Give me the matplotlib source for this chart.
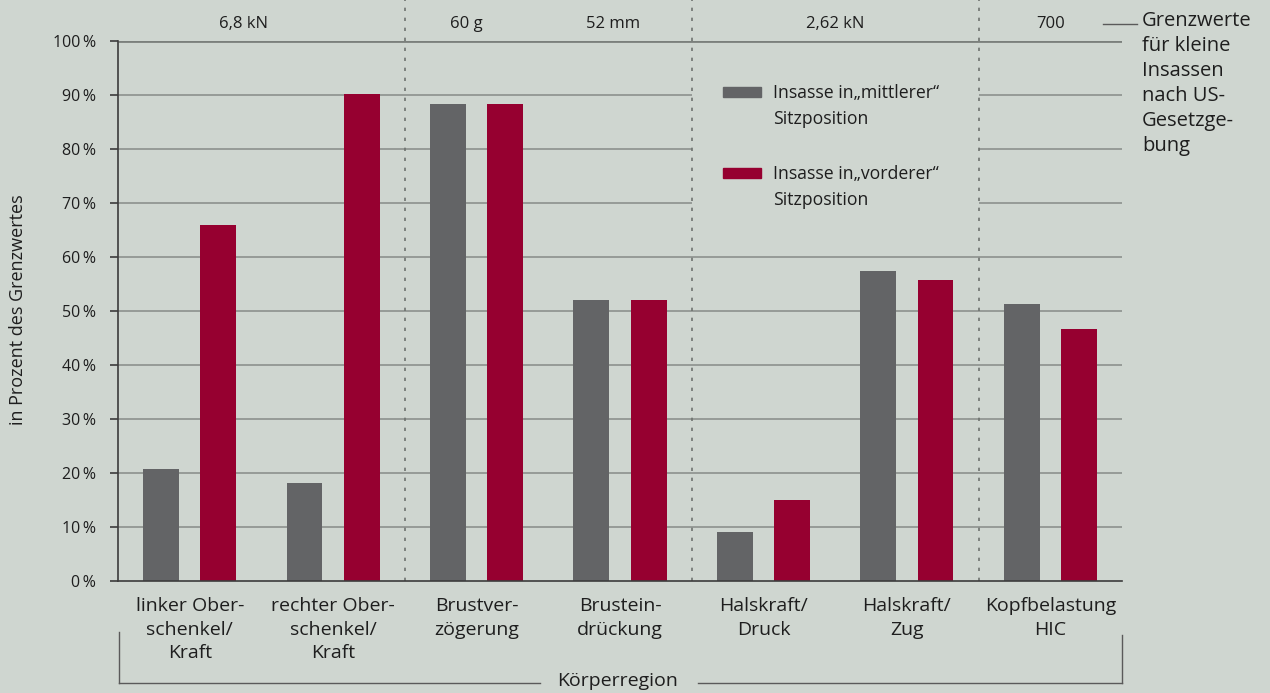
import numpy as np
import matplotlib
matplotlib.use('Agg')
from matplotlib import pyplot as plt
from matplotlib.patches import Rectangle
import matplotlib.transforms as mtransforms

plt.rcParams['font.family'] = ['Open Sans', 'DejaVu Sans']

BG = '#cfd6d0'
GREY = '#636466'
RED = '#960030'
TXT = '#1e1e1e'
LINE = '#8c918d'

######################## data ########################
categories = ['linker Ober-\nschenkel/\nKraft', 'rechter Ober-\nschenkel/\nKraft',
              'Brustver-\nzögerung', 'Brustein-\ndrückung', 'Halskraft/\nDruck',
              'Halskraft/\nZug', 'Kopfbelastung\nHIC']
mittlerer = [20.7, 18.1, 88.3, 52.0, 9.1, 57.4, 51.3]
vorderer = [65.9, 90.2, 88.3, 52.0, 15.0, 55.8, 46.6]
yticks = [0, 10, 20, 30, 40, 50, 60, 70, 80, 90, 100]
limit_labels = ['6,8 kN', '60 g', '52 mm', '2,62 kN', '700']
limit_pos = [0.875, 2.43, 3.45, 5.0, 6.5]
separators = [2, 4, 6]

######################## figure ########################
W, H = 1270, 693
fig = plt.figure(figsize=(W / 100, H / 100), dpi=100, facecolor=BG)
x0, x1, y0, y1 = 118, 1122, 581, 41
ax = fig.add_axes([x0 / W, 1 - y0 / H, (x1 - x0) / W, (y0 - y1) / H], facecolor=BG)
ax.set_xlim(0, 7)
ax.set_ylim(0, 100)


def ay(py):
    # figure pixel row -> axes fraction
    return (y0 - py) / (y0 - y1)


blend = mtransforms.blended_transform_factory(ax.transData, ax.transAxes)

# grid lines, hidden in the legend area
for t in yticks[1:-1]:
    if t in (70, 80, 90):
        ax.hlines(t, 0, 4, color=LINE, lw=1.2, zorder=1)
        ax.hlines(t, 6, 7, color=LINE, lw=1.2, zorder=1)
    else:
        ax.hlines(t, 0, 7, color=LINE, lw=1.2, zorder=1)
ax.hlines(100, 0, 7, color='#7b807c', lw=2, zorder=1)

# bars
x = np.arange(len(categories)) + 0.5
ax.bar(x - 0.2, mittlerer, width=0.25, color=GREY, zorder=2)
ax.bar(x + 0.2, vorderer, width=0.25, color=RED, zorder=2)

# dotted separators
for s in separators:
    ax.plot([s, s], [0, ay(0)], transform=blend, color='#6e736f', lw=1.2,
            ls=(0, (2, 4)), clip_on=False, zorder=1)

# spines / ticks
for sp in ['top', 'right']:
    ax.spines[sp].set_visible(False)
ax.spines['left'].set_color('#3c3c3c')
ax.spines['bottom'].set_color('#3c3c3c')
ax.spines['left'].set_linewidth(1.2)
ax.spines['bottom'].set_linewidth(1.2)
ax.set_yticks(yticks)
ax.set_yticklabels(['%d\u2009%%' % t for t in yticks], fontsize=11.5, color=TXT)
ax.tick_params(axis='y', length=6, width=1.2, color='#3c3c3c', pad=10)
ax.set_xticks([])
fig.text(18 / W, 1 - 310 / H, 'in Prozent des Grenzwertes', rotation=90,
         ha='center', va='center', fontsize=13, color=TXT)

# category labels
for xi, c in zip(x, categories):
    ax.text(xi, ay(597), c, transform=blend, ha='center', va='top',
            fontsize=14, color=TXT, linespacing=1.4)

# limit values on top
for p, l in zip(limit_pos, limit_labels):
    ax.text(p, ay(24), l, transform=blend, ha='center', va='center', fontsize=12, color=TXT)

fig.add_artist(plt.Line2D([1103 / W, 1137 / W], [1 - 24 / H, 1 - 24 / H], color='#5a5a5a', lw=1))
fig.text(1142 / W, 1 - 11 / H, 'Grenzwerte\nfür kleine\nInsassen\nnach US-\nGesetzge-\nbung',
         ha='left', va='top', fontsize=14.5, color=TXT, linespacing=1.33)

# legend (drawn by hand to keep patch next to first line)
legend = [('Insasse in\u201emittlerer\u201c\nSitzposition', GREY, 92),
          ('Insasse in\u201evorderer\u201c\nSitzposition', RED, 173)]
for lab, col, py in legend:
    fig.patches.append(Rectangle((723 / W, 1 - (py + 5) / H), 38 / W, 10 / H,
                                 transform=fig.transFigure, color=col))
    fig.text(773 / W, 1 - (py - 8) / H, lab, ha='left', va='top', fontsize=12.7,
             color=TXT, linespacing=1.55)

# bracket for Körperregion
bc = '#5a5a5a'
fig.add_artist(plt.Line2D([119 / W, 119 / W], [1 - 632 / H, 1 - 683 / H], color=bc, lw=1))
fig.add_artist(plt.Line2D([1122 / W, 1122 / W], [1 - 635 / H, 1 - 683 / H], color=bc, lw=1))
fig.add_artist(plt.Line2D([119 / W, 540 / W], [1 - 683 / H, 1 - 683 / H], color=bc, lw=1))
fig.add_artist(plt.Line2D([698 / W, 1122 / W], [1 - 683 / H, 1 - 683 / H], color=bc, lw=1))
fig.text(618 / W, 1 - 681 / H, 'Körperregion', ha='center', va='center', fontsize=14, color=TXT)

fig.savefig('out.png', dpi=100, facecolor=BG)
